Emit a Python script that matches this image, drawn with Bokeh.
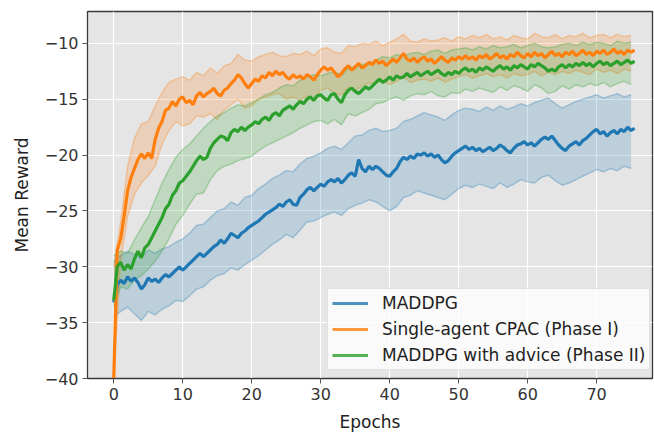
import numpy as np
from bokeh.plotting import figure
from bokeh.models import Range1d, Legend, LegendItem
from bokeh.embed import file_html
from bokeh.resources import INLINE

# ---- data ----
# main curves, one value every 0.5 epoch starting at epoch 0
maddpg = [
    -33.2, -31.6, -31.2, -31.5, -30.9, -31.3, -31.0, -31.4, -32.0, -31.6,
    -31.0, -31.3, -31.1, -31.4, -31.0, -30.7, -30.9, -30.6, -30.3, -30.0,
    -30.3, -30.0, -29.7, -29.4, -29.1, -28.8, -29.1, -28.8, -28.5, -28.2,
    -28.0, -27.6, -27.9, -27.5, -27.0, -27.2, -27.4, -27.0, -26.8, -26.5,
    -26.3, -26.1, -25.9, -25.6, -25.3, -25.1, -24.9, -24.7, -24.4, -24.6,
    -24.2, -24.0, -24.4, -24.5, -23.8, -23.5, -23.1, -22.9, -23.2, -22.9,
    -22.6, -22.8, -22.4, -22.2, -22.4, -22.1, -22.5, -22.2, -21.8, -21.6,
    -21.9, -20.4, -21.2, -21.5, -21.0, -21.3, -21.0, -21.2, -21.5, -21.8,
    -21.9, -21.5, -21.2, -20.6, -20.2, -20.4, -20.1, -20.3, -19.9, -20.0,
    -19.8, -20.1, -19.9, -20.2, -20.0, -20.4, -20.7, -20.5, -20.1, -19.8,
    -19.6, -19.4, -19.2, -19.5, -19.3, -19.6, -19.4, -19.7, -19.5, -19.3,
    -19.6, -19.4, -19.1, -19.3, -19.6, -19.8, -19.4, -19.1, -19.0, -18.8,
    -19.1, -18.9, -19.2, -18.9, -18.6, -18.4, -18.6, -18.3, -18.7, -19.1,
    -19.4, -19.6, -19.2, -19.0, -18.8, -19.1, -18.7, -18.5, -18.2, -17.9,
    -17.7, -18.1, -17.9, -18.3, -18.0, -17.8, -18.1, -17.7, -17.9, -17.5,
    -17.8, -17.6,
]
cpac = [
    -40.0, -28.5, -27.5, -25.5, -23.2, -22.0, -21.2, -20.4, -19.9, -20.3,
    -19.8, -20.3, -18.6, -17.6, -17.0, -16.0, -15.8, -15.2, -15.6, -15.0,
    -14.8, -15.3, -15.1, -15.5, -14.7, -14.4, -14.8, -14.5, -14.3, -14.0,
    -14.5, -14.7, -14.2, -14.0, -13.6, -13.3, -12.8, -13.1, -13.6, -14.0,
    -13.6, -13.2, -13.4, -12.9, -13.1, -12.6, -12.9, -12.5, -12.8, -12.6,
    -13.0, -13.2, -12.8, -13.1, -12.9, -13.2, -12.8, -13.0, -13.3, -12.8,
    -12.4, -12.1, -12.4, -12.2, -12.6, -13.0, -12.7, -12.3, -12.0, -12.4,
    -12.1, -11.8, -12.2, -12.0, -11.7, -11.9, -11.5, -11.8, -11.6, -12.0,
    -11.7, -11.4, -11.7, -11.3, -10.9, -11.4, -11.6, -11.3, -11.7, -11.4,
    -11.2, -11.6, -11.4, -11.8, -11.5, -11.2, -11.5, -11.7, -11.3, -11.5,
    -11.2, -11.4, -11.1, -11.4, -11.2, -11.5, -11.1, -11.3, -11.0, -11.4,
    -11.2, -10.9, -11.3, -11.1, -11.4, -11.0, -11.2, -10.8, -11.1, -11.3,
    -10.9, -11.2, -10.8, -11.1, -10.9, -11.3, -11.0, -10.7, -11.1, -10.9,
    -11.2, -10.8, -11.0, -10.7, -11.1, -10.9, -10.6, -11.0, -10.8, -11.1,
    -10.7, -10.9, -10.6, -11.0, -10.8, -10.5, -10.9, -10.7, -11.0, -10.6,
    -10.8, -10.6,
]
advice = [
    -33.0, -30.0, -29.6, -30.3, -29.8, -30.2, -29.3, -28.6, -29.2, -28.3,
    -28.0, -27.4, -26.8, -26.2, -25.6, -24.8, -24.4, -23.6, -23.2, -22.5,
    -22.3, -21.9, -21.5, -21.0, -20.5, -20.1, -20.4, -20.2, -19.4, -18.9,
    -18.6, -18.3, -18.4, -18.7, -18.0, -17.7, -17.9, -17.5, -17.8, -17.5,
    -17.3, -17.0, -17.2, -16.8, -16.6, -16.9, -16.4, -16.2, -16.5, -16.0,
    -15.8, -15.6, -15.9, -15.5, -15.2, -15.4, -15.0, -14.8, -15.1, -14.7,
    -14.6, -14.9, -15.1, -14.6, -14.5, -15.0, -15.3, -14.6, -14.2, -14.0,
    -14.3, -14.5, -14.2, -13.9, -14.1, -13.8, -13.5, -13.2, -13.5, -13.3,
    -13.0, -13.3, -12.9, -13.1, -13.0, -12.7, -13.0, -12.8, -12.6, -12.9,
    -12.7, -12.5, -12.8, -12.6, -12.4, -12.7, -12.9, -12.6, -12.8, -12.5,
    -12.7, -12.4, -12.2, -12.5, -12.3, -12.6, -12.2, -12.4, -12.1, -12.3,
    -12.5, -12.2, -12.0, -12.3, -12.1, -12.4, -12.0, -12.2, -11.9, -12.1,
    -12.3, -11.9, -12.1, -11.8, -12.0, -12.2, -12.5, -12.3, -12.5, -12.1,
    -11.9, -12.2, -11.9, -12.1, -11.8, -12.0, -11.7, -12.0, -11.8, -12.1,
    -11.8, -11.6, -11.9, -11.7, -12.0, -11.8, -11.6, -11.9, -11.7, -11.5,
    -11.8, -11.6,
]

# spread bands, one value per epoch starting at epoch 0
maddpg_hi = [
    -29.5, -29.0, -28.6, -28.9, -29.2, -28.5, -28.8, -28.4, -28.2, -27.8,
    -27.5, -27.0, -26.3, -26.2, -25.6, -25.0, -24.8, -24.2, -24.5, -23.8,
    -23.6, -23.0, -22.6, -22.1, -21.8, -21.4, -21.5, -20.8, -20.3, -20.1,
    -19.8, -19.4, -19.2, -19.5, -18.9, -18.3, -18.2, -17.8, -17.6, -17.9,
    -17.8, -17.6, -17.0, -16.8, -16.5, -16.2, -16.4, -16.6, -16.9, -16.4,
    -16.0, -15.8, -15.9, -16.1, -15.7, -16.0, -15.6, -15.9, -15.7, -15.4,
    -15.6, -15.3, -15.1, -14.9, -15.4, -15.8, -15.5, -15.2, -15.0, -14.8,
    -14.6, -14.9, -14.7, -14.5, -14.8, -14.6,
]
maddpg_lo = [
    -34.5, -34.0, -33.6, -34.2, -34.8, -34.0, -34.3, -33.8, -33.5, -33.0,
    -33.1, -32.6, -32.0, -31.8, -31.2, -30.8, -30.6, -30.1, -30.3, -29.8,
    -29.4, -29.0, -28.5, -28.0, -27.6, -27.1, -27.4, -26.7, -26.0, -25.9,
    -25.6, -25.3, -25.1, -25.4, -24.8, -24.5, -24.3, -24.0, -24.2, -24.6,
    -25.0, -24.6, -23.8, -23.6, -23.2, -23.4, -23.6, -23.8, -24.0, -23.5,
    -23.0, -22.7, -22.9, -22.6, -22.8, -23.0, -22.5, -22.9, -22.6, -22.2,
    -22.4, -22.5, -22.0, -21.8, -22.3, -22.7, -22.5, -22.2, -21.9, -21.6,
    -21.3, -21.5, -21.2, -21.4, -21.0, -21.2,
]
cpac_hi = [
    -30.0, -26.0, -21.0, -18.5, -17.2, -17.0, -15.6, -14.4, -13.5, -13.2,
    -13.0, -13.3, -12.6, -12.9, -12.2, -12.7, -12.0, -11.8, -11.0, -11.5,
    -11.6, -11.2, -11.0, -10.8, -11.1, -11.2, -10.9, -11.0, -10.7, -11.1,
    -10.5, -10.4, -10.8, -10.9, -10.2, -10.3, -10.0, -10.1, -9.8, -10.2,
    -9.9, -9.6, -9.2, -9.8, -9.9, -9.6, -9.8, -9.7, -9.5, -9.8,
    -9.4, -9.6, -9.3, -9.5, -9.2, -9.6, -9.4, -9.7, -9.3, -9.5,
    -9.6, -9.1, -9.4, -9.5, -9.2, -9.6, -9.3, -9.4, -9.1, -9.5,
    -9.3, -9.2, -9.5, -9.2, -9.4, -9.3,
]
cpac_lo = [
    -40.0, -29.5, -25.5, -23.5, -22.5, -21.8, -21.0, -19.0, -17.8, -17.0,
    -17.4, -17.2, -16.5, -16.6, -16.3, -16.8, -16.0, -15.5, -15.0, -15.8,
    -15.6, -15.0, -14.8, -14.6, -14.5, -15.0, -14.8, -15.1, -14.7, -15.2,
    -14.2, -14.0, -14.5, -14.6, -13.9, -14.2, -13.8, -13.6, -13.5, -13.4,
    -13.7, -13.4, -13.0, -13.5, -13.3, -13.2, -13.4, -13.1, -13.5, -13.2,
    -13.0, -12.8, -13.1, -12.9, -12.7, -13.0, -12.8, -13.1, -12.7, -12.9,
    -12.8, -12.5, -12.9, -12.6, -12.8, -12.5, -12.7, -12.4, -12.6, -12.8,
    -12.3, -12.6, -12.4, -12.7, -12.3, -12.5,
]
advice_hi = [
    -29.0, -28.6, -28.8, -27.6, -26.5, -25.5, -24.0, -22.5, -21.3, -20.2,
    -19.5, -19.0, -18.3, -17.6, -17.0, -16.5, -16.2, -15.8, -15.5, -15.6,
    -15.3, -15.0, -14.6, -14.4, -14.0, -13.7, -13.8, -13.3, -13.0, -12.8,
    -12.9, -12.7, -12.5, -12.9, -12.2, -12.1, -11.9, -11.8, -11.5, -11.2,
    -11.3, -11.0, -11.1, -10.9, -10.8, -11.0, -10.7, -10.6, -10.9, -10.6,
    -10.5, -10.4, -10.6, -10.3, -10.5, -10.2, -10.4, -10.3, -10.1, -10.4,
    -10.2, -10.0, -10.3, -10.4, -10.3, -10.1, -10.0, -10.2, -9.9, -10.1,
    -9.9, -10.0, -10.2, -9.8, -10.0, -9.9,
]
advice_lo = [
    -33.5, -31.8, -32.0, -31.2, -30.8, -30.2, -29.5, -28.6, -27.5, -26.2,
    -25.4, -24.4, -23.5, -23.4, -22.2, -21.4, -21.0, -20.8, -20.5, -20.3,
    -20.1, -19.6, -19.2, -18.9, -18.6, -18.3, -18.0, -17.6, -17.3, -17.0,
    -16.9, -17.2, -16.8, -17.3, -16.3, -16.5, -16.2, -15.9, -15.4, -15.3,
    -15.0, -14.8, -15.1, -14.7, -14.5, -14.6, -14.3, -14.7, -14.8, -14.4,
    -14.5, -14.1, -14.3, -14.0, -14.2, -14.4, -13.9, -14.2, -13.8, -14.0,
    -14.3, -13.7, -14.0, -14.5, -14.3, -13.8, -14.1, -13.7, -13.9, -13.6,
    -13.8, -13.5, -13.9, -13.6, -13.4, -13.7,
]

labels = ["MADDPG", "Single-agent CPAC (Phase I)", "MADDPG with advice (Phase II)"]
colors = ["#1f77b4", "#ff7f0e", "#2ca02c"]
x_ticks = [0, 10, 20, 30, 40, 50, 60, 70]
y_ticks = [-40, -35, -30, -25, -20, -15, -10]

series = [(maddpg, maddpg_hi, maddpg_lo), (cpac, cpac_hi, cpac_lo), (advice, advice_hi, advice_lo)]

FONT = "DejaVu Sans"
FS_TICK = "16px"
FS = "17px"

p = figure(width=654, height=434, output_backend="svg", toolbar_location=None,
           x_range=Range1d(-3.81, 78.1), y_range=Range1d(-40, -7.15),
           min_border_left=87, min_border_right=2, min_border_top=11, min_border_bottom=51)
p.background_fill_color = "#e5e5e5"
p.border_fill_color = "white"
p.outline_line_color = "#3a3a3a"
p.outline_line_width = 1.3

for g in (p.xgrid, p.ygrid):
    g.grid_line_color = "white"
    g.grid_line_width = 1.2

p.xaxis.ticker = x_ticks
p.yaxis.ticker = y_ticks
p.yaxis.major_label_overrides = {t: ("\u2212" + str(abs(t))) for t in y_ticks}
for ax in (p.xaxis[0], p.yaxis[0]):
    ax.axis_line_color = "#3a3a3a"
    ax.major_tick_line_color = "#555555"
    ax.major_tick_out = 5
    ax.major_tick_in = 0
    ax.minor_tick_line_color = None
    ax.major_label_text_font = FONT
    ax.major_label_text_font_size = FS_TICK
    ax.major_label_text_color = "#333333"
    ax.major_label_standoff = 4
    ax.axis_label_text_font = FONT
    ax.axis_label_text_font_size = FS
    ax.axis_label_text_font_style = "normal"
    ax.axis_label_text_color = "#222222"
p.xaxis.axis_label = "Epochs"
p.yaxis.axis_label = "Mean Reward"
p.xaxis.axis_label_standoff = 9
p.yaxis.axis_label_standoff = 10

# bands
for (mean, hi, lo), c in zip(series, colors):
    eb = np.arange(len(hi)) * 1.0
    p.varea(x=eb, y1=lo, y2=hi, fill_color=c, fill_alpha=0.2)
    p.line(eb, hi, line_color=c, line_alpha=0.3, line_width=1.5)
    p.line(eb, lo, line_color=c, line_alpha=0.3, line_width=1.5)

# main curves
for (mean, hi, lo), c in zip(series, colors):
    em = np.arange(len(mean)) * 0.5
    p.line(em, mean, line_color=c, line_width=3.2)

# legend with dedicated renderers placed outside the visible range
items = []
for lab, c in zip(labels, colors):
    r = p.line(x=[-100, -99], y=[0, 0], line_color=c, line_width=3, line_alpha=0.8)
    items.append(LegendItem(label=lab, renderers=[r]))
legend = Legend(items=items, location=(240, 8))
legend.label_text_font = FONT
legend.label_text_font_size = FS
legend.label_text_color = "#222222"
legend.glyph_width = 36
legend.glyph_height = 20
legend.label_height = 20
legend.label_standoff = 14
legend.spacing = 6
legend.padding = 4
legend.margin = 0
legend.background_fill_color = "white"
legend.background_fill_alpha = 0.8
legend.border_line_color = "#c8c8c8"
legend.border_line_width = 1
p.add_layout(legend, "center")

open("out.html", "w").write(file_html(p, INLINE))
